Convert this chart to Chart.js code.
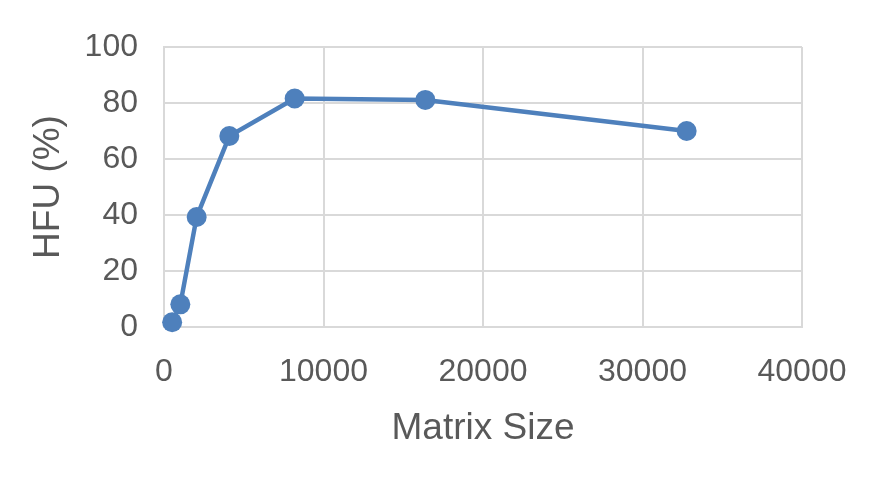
<!DOCTYPE html>
<html>
<head>
<meta charset="utf-8">
<script src="https://cdn.jsdelivr.net/npm/chart.js@4"></script>
<style>
  html, body { margin: 0; padding: 0; background: #fff; }
  #wrap { width: 886px; height: 480px; }
</style>
</head>
<body>
<div id="wrap"><canvas id="hfu"></canvas></div>
<script>
// ── Dados ─────────────────────────────────────────────────────────────────────
const matrixSizes = [512, 1024, 2048, 4096, 8192, 16384, 32768];
const hfuValues   = [1.7, 8.1, 39.3, 68.2, 81.6, 81.1, 70.0];
const xTicks      = [0, 10000, 20000, 30000, 40000];
const yTicks      = [0, 20, 40, 60, 80, 100];

const FONT  = "'Liberation Sans', Arial, sans-serif";
const TEXT  = '#595959';
const GRID  = '#d9d9d9';
const LINE  = '#4e80bc';

const ctx = document.getElementById('hfu');

new Chart(ctx, {
  type: 'scatter',
  data: {
    datasets: [{
      label: 'HFU',
      data: matrixSizes.map((x, i) => ({ x, y: hfuValues[i] })),
      showLine: true,
      borderColor: LINE,
      backgroundColor: LINE,
      borderWidth: 4.5,
      pointRadius: 10,
      pointHoverRadius: 10,
      pointBorderWidth: 0,
      clip: false,
    }],
  },
  options: {
    responsive: true,
    maintainAspectRatio: false,
    animation: false,
    layout: { padding: { left: 0, right: 84, top: 47, bottom: 0 } },
    plugins: {
      legend: { display: false },
      tooltip: { enabled: false },
    },
    scales: {
      x: {
        type: 'linear',
        min: 0, max: 40000,
        afterBuildTicks: s => { s.ticks = xTicks.map(v => ({ value: v })); },
        afterFit: s => { s.height = 153; },
        ticks: { color: TEXT, font: { family: FONT, size: 32 }, padding: 26, maxRotation: 0, callback: v => String(v) },
        grid: { color: GRID, lineWidth: 2, drawTicks: false },
        border: { color: GRID, width: 2 },
        title: { display: true, text: 'Matrix Size', color: TEXT, font: { family: FONT, size: 37 }, padding: { top: 0, bottom: 29 } },
      },
      y: {
        min: 0, max: 100,
        afterBuildTicks: s => { s.ticks = yTicks.map(v => ({ value: v })); },
        afterFit: s => { s.width = 164; },
        ticks: { color: TEXT, font: { family: FONT, size: 32 }, padding: 26, callback: v => String(v) },
        grid: { color: GRID, lineWidth: 2, drawTicks: false },
        border: { color: GRID, width: 2 },
        title: { display: true, text: 'HFU (%)', color: TEXT, font: { family: FONT, size: 37 }, padding: { top: 27, bottom: 0 } },
      },
    },
  },
});
</script>
</body>
</html>
